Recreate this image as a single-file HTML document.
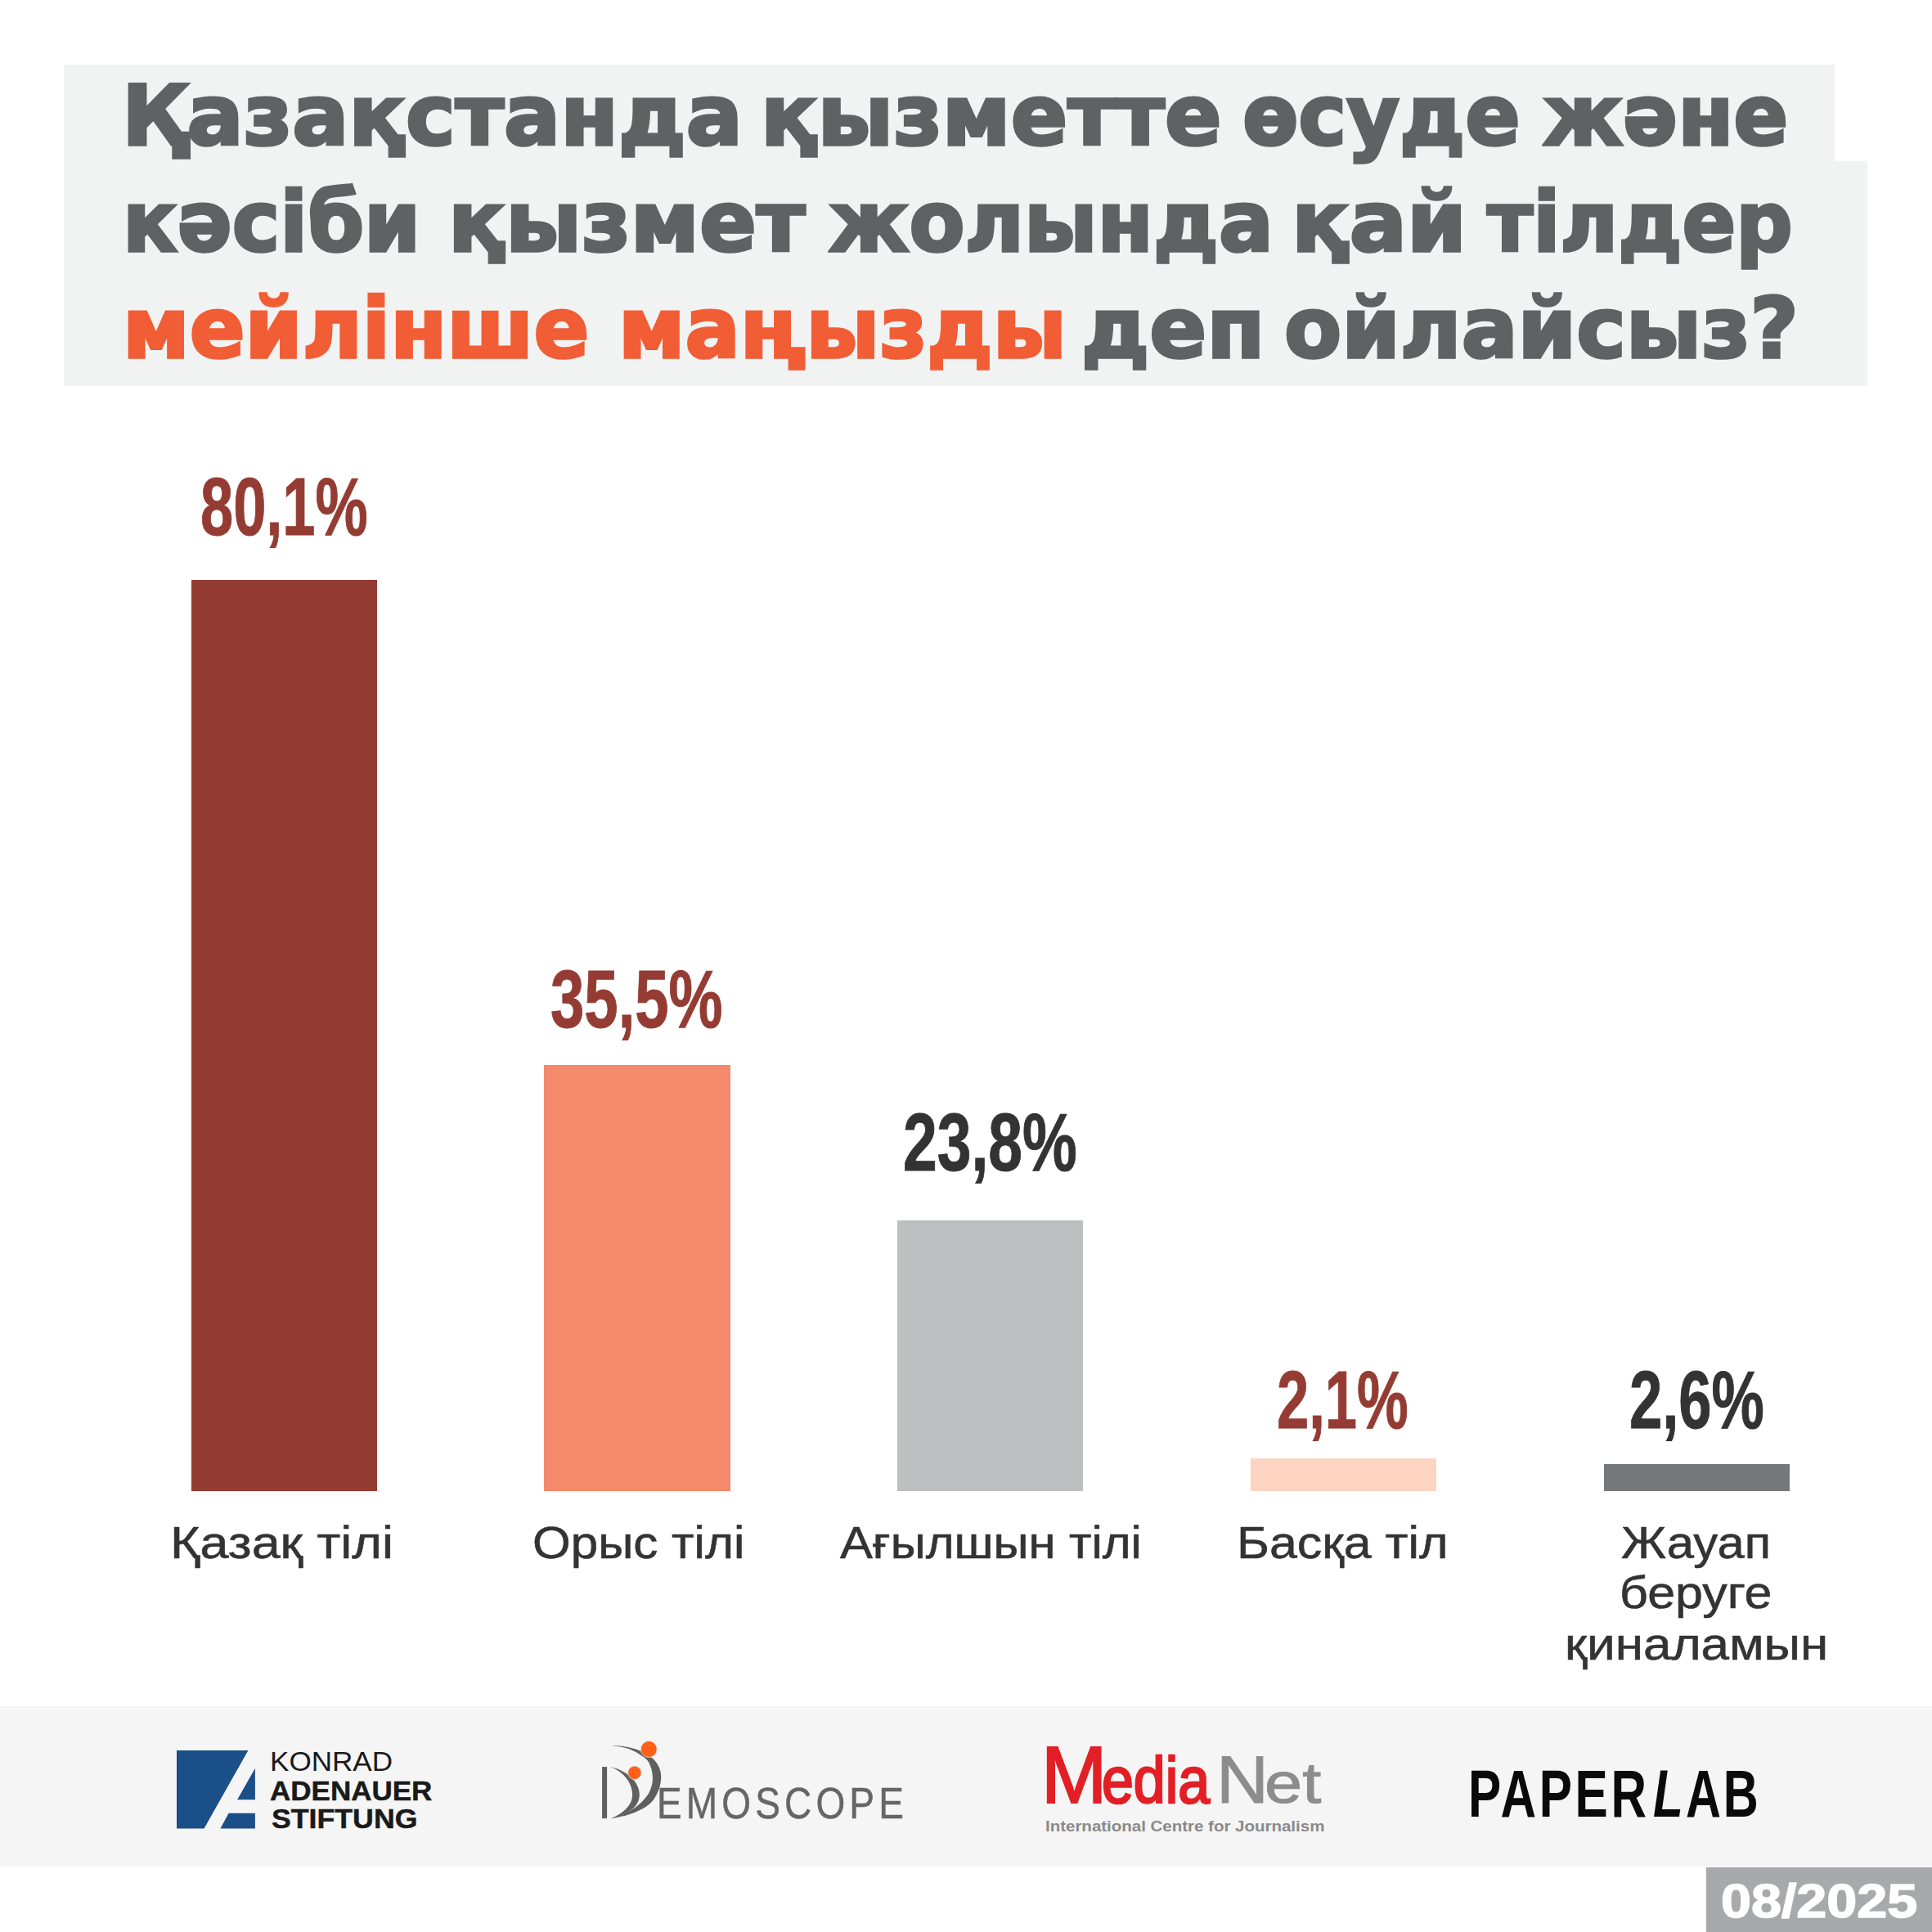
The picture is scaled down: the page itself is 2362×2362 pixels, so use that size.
<!DOCTYPE html>
<html lang="kk">
<head>
<meta charset="utf-8">
<title>Қазақстанда қызметте өсуде қай тілдер маңызды</title>
<style>
html,body{margin:0;padding:0;background:#fff;}
body{width:2362px;height:2362px;position:relative;overflow:hidden;font-family:"Liberation Sans","DejaVu Sans",sans-serif;}
span{position:absolute;white-space:nowrap;transform-origin:0 0;display:block;}
.tbg{position:absolute;background:#f1f2f2;}
.w{font-family:"DejaVu Sans","Liberation Sans",sans-serif;font-weight:bold;font-size:102px;line-height:102px;color:#606163;-webkit-text-stroke:3.5px #606163;}
.w.o{color:#f15d34;-webkit-text-stroke-color:#f15d34;}
.bar{position:absolute;width:227.4px;}
.v{font-weight:bold;font-size:100px;line-height:100px;}
.red{color:#943c33;-webkit-text-stroke:1px #943c33;}
.dk{color:#333333;-webkit-text-stroke:1px #333333;}
.c{font-size:55px;line-height:55px;color:#333333;-webkit-text-stroke:0.6px #333333;}
.foot{position:absolute;left:0;top:2085.6px;width:2362px;height:196.3px;background:#f5f5f5;}
.date{position:absolute;left:2086.4px;top:2283.2px;width:276px;height:79px;background:#a8a9ac;}
.lg{font-weight:normal;}
.lg.b{font-weight:bold;}
.lg.i{font-style:italic;}
svg{position:absolute;overflow:visible;}
</style>
</head>
<body>
<!-- title -->
<div class="tbg" style="left:78px;top:79px;width:2165px;height:120px;"></div>
<div class="tbg" style="left:78px;top:197px;width:2205px;height:275px;"></div>
<div class="title">
<span class="w" style="left:148.6px;top:91.3px;transform:scaleX(1.0049);">Қазақстанда</span>
<span class="w" style="left:929.6px;top:91.3px;transform:scaleX(1.0051);">қызметте</span>
<span class="w" style="left:1518.6px;top:91.3px;transform:scaleX(0.9743);">өсуде</span>
<span class="w" style="left:1885.6px;top:91.3px;transform:scaleX(0.9676);">және</span>
<span class="w" style="left:149.8px;top:221.0px;transform:scaleX(0.9672);">кәсіби</span>
<span class="w" style="left:548.2px;top:221.0px;transform:scaleX(1.0094);">қызмет</span>
<span class="w" style="left:1012.9px;top:221.0px;transform:scaleX(0.9707);">жолында</span>
<span class="w" style="left:1578.5px;top:221.0px;transform:scaleX(1.0204);">қай</span>
<span class="w" style="left:1818.4px;top:221.0px;transform:scaleX(0.9499);">тілдер</span>
<span class="w o" style="left:149.7px;top:350.6px;transform:scaleX(0.9804);">мейлінше</span>
<span class="w o" style="left:755.6px;top:350.6px;transform:scaleX(0.9771);">маңызды</span>
<span class="w" style="left:1321.8px;top:350.6px;transform:scaleX(1.0104);">деп</span>
<span class="w" style="left:1570.2px;top:350.6px;transform:scaleX(1.0018);">ойлайсыз?</span>
</div>

<!-- bars -->
<div class="bar" style="left:233.5px;top:709px;height:1113.8px;background:#943c33;"></div>
<div class="bar" style="left:665.2px;top:1302px;height:520.8px;background:#f4896b;"></div>
<div class="bar" style="left:1097px;top:1491.8px;height:331px;background:#bebfc1;"></div>
<div class="bar" style="left:1529px;top:1783px;height:39.8px;background:#fdd4c1;"></div>
<div class="bar" style="left:1960.8px;top:1790px;height:32.8px;background:#76777a;"></div>

<!-- values -->
<div class="values">
<span class="v red" style="left:244.7px;top:569.1px;transform:scaleX(0.7216);">80,1%</span>
<span class="v red" style="left:673.4px;top:1171.0px;transform:scaleX(0.7430);">35,5%</span>
<span class="v dk" style="left:1103.9px;top:1346.3px;transform:scaleX(0.7507);">23,8%</span>
<span class="v red" style="left:1561.1px;top:1660.5px;transform:scaleX(0.7049);">2,1%</span>
<span class="v dk" style="left:1991.5px;top:1660.5px;transform:scaleX(0.7233);">2,6%</span>
</div>

<!-- categories -->
<div class="cats">
<span class="c" style="left:208.4px;top:1858.6px;transform:scaleX(1.1422);">Қазақ тілі</span>
<span class="c" style="left:651.1px;top:1858.6px;transform:scaleX(1.0922);">Орыс тілі</span>
<span class="c" style="left:1026.9px;top:1858.6px;transform:scaleX(1.0869);">Ағылшын тілі</span>
<span class="c" style="left:1512.4px;top:1858.6px;transform:scaleX(1.1066);">Басқа тіл</span>
<span class="c" style="left:1981.8px;top:1858.6px;transform:scaleX(1.0860);">Жауап</span>
<span class="c" style="left:1980.2px;top:1920.4px;transform:scaleX(1.1074);">беруге</span>
<span class="c" style="left:1912.8px;top:1982.5px;transform:scaleX(1.1264);">қиналамын</span>
</div>

<!-- footer -->
<div class="foot"></div>
<div class="date"></div>

<!-- Konrad Adenauer Stiftung -->
<svg style="left:216px;top:2140px;" width="96" height="96" viewBox="0 0 96 96">
<polygon points="0,0 87.4,0 33.5,95.5 0,95.5" fill="#1a4f87"/>
<polygon points="95.9,21.7 95.9,60.2 74.1,60.2" fill="#1a4f87"/>
<polygon points="63.6,76.8 95.9,76.8 95.9,95.5 53.4,95.5" fill="#1a4f87"/>
</svg>
<span class="lg" style="left:330.3px;top:2137.0px;transform:scaleX(1.0625);font-size:33px;line-height:33px;color:#1a1a1a;">KONRAD</span>
<span class="lg b" style="left:330.4px;top:2171.5px;transform:scaleX(1.0293);font-size:34px;line-height:34px;color:#1a1a1a;-webkit-text-stroke:0.5px #1a1a1a;">ADENAUER</span>
<span class="lg b" style="left:331.9px;top:2205.8px;transform:scaleX(1.0497);font-size:34px;line-height:34px;color:#1a1a1a;-webkit-text-stroke:0.5px #1a1a1a;">STIFTUNG</span>

<!-- Demoscope -->
<svg style="left:725px;top:2120px;" width="100" height="110" viewBox="0 0 100 110">
<rect x="11.1" y="40.1" width="6" height="63" fill="#5f5f5f"/>
<path d="M21,40 C40,44 57.4,58 56.8,75 C56.4,90 40,100 21.6,103.2 C35,98 48.2,88 48.1,74 C48,60 38,46 21,40 Z" fill="#5f5f5f"/>
<path d="M22.2,14 C45,14 62,20 73.5,30.2 C80.5,37 83.6,45 83.2,54.1 C82.6,64 79.5,72 74.4,79.7 C68,88 60,92 51.3,95.7 C42,99.5 32,102 21.1,103.4 C27,101.7 32,100.3 37,98.5 C42,96 47,93.3 51.3,90 C58,85 63,80 67.2,74 C70.6,68 73.1,61 73,54.1 C72.9,46 71,40 68,34.2 C66,31 63,28.7 59.8,26.8 C55.5,23.5 50.5,21 45.6,18.8 C38,16 30,14.8 22.2,14 Z" fill="#5f5f5f"/>
<circle cx="68.3" cy="18.5" r="9.9" fill="#ff5f17" stroke="#e2e2e2" stroke-width="0.8"/>
<circle cx="50.9" cy="47.3" r="8.2" fill="#ff5f17" stroke="#e2e2e2" stroke-width="0.8"/>
</svg>
<span class="lg" style="left:802.9px;top:2176.6px;transform:scaleX(0.8526);font-size:54px;line-height:54px;color:#666666;-webkit-text-stroke:0.5px #666666;letter-spacing:6px;">EMOSCOPE</span>

<!-- MediaNet -->
<div class="medianet"><span class="lg" style="left:1273.2px;top:2120.3px;transform:scaleX(0.9750);font-size:99px;line-height:99px;color:#e31f26;-webkit-text-stroke:2.2px #e31f26;">M</span><span class="lg" style="left:1347.2px;top:2137.0px;transform:scaleX(0.8846);font-size:79px;line-height:79px;color:#e31f26;-webkit-text-stroke:2.6px #e31f26;">edia</span><span class="lg" style="left:1486.7px;top:2136.1px;transform:scaleX(1.0935);font-size:81px;line-height:81px;color:#8c8c8c;-webkit-text-stroke:1px #8c8c8c;">N</span><span class="lg" style="left:1545.6px;top:2145.4px;transform:scaleX(1.1857);font-size:70px;line-height:70px;color:#8c8c8c;-webkit-text-stroke:1px #8c8c8c;">et</span></div>
<span class="lg b" style="left:1277.9px;top:2223.6px;transform:scaleX(1.1376);font-size:18px;line-height:18px;color:#8a8a8a;">International Centre for Journalism</span>

<!-- Paperlab -->
<div class="paperlab"><span class="lg b" style="left:1795.3px;top:2153.3px;transform:scaleX(0.7441);font-size:81px;line-height:81px;color:#0a0a0a;letter-spacing:5px;">PAPER</span><span class="lg b i" style="left:2020.5px;top:2153.3px;transform:scaleX(0.7442);font-size:81px;line-height:81px;color:#0a0a0a;">L</span><span class="lg b" style="left:2060.5px;top:2153.3px;transform:scaleX(0.7339);font-size:81px;line-height:81px;color:#0a0a0a;letter-spacing:4px;">AB</span></div>

<!-- date -->
<span class="lg b" style="left:2103.6px;top:2294.6px;transform:scaleX(1.1454);font-size:58px;line-height:58px;color:#ffffff;-webkit-text-stroke:1.5px #ffffff;">08/2025</span>
</body>
</html>
